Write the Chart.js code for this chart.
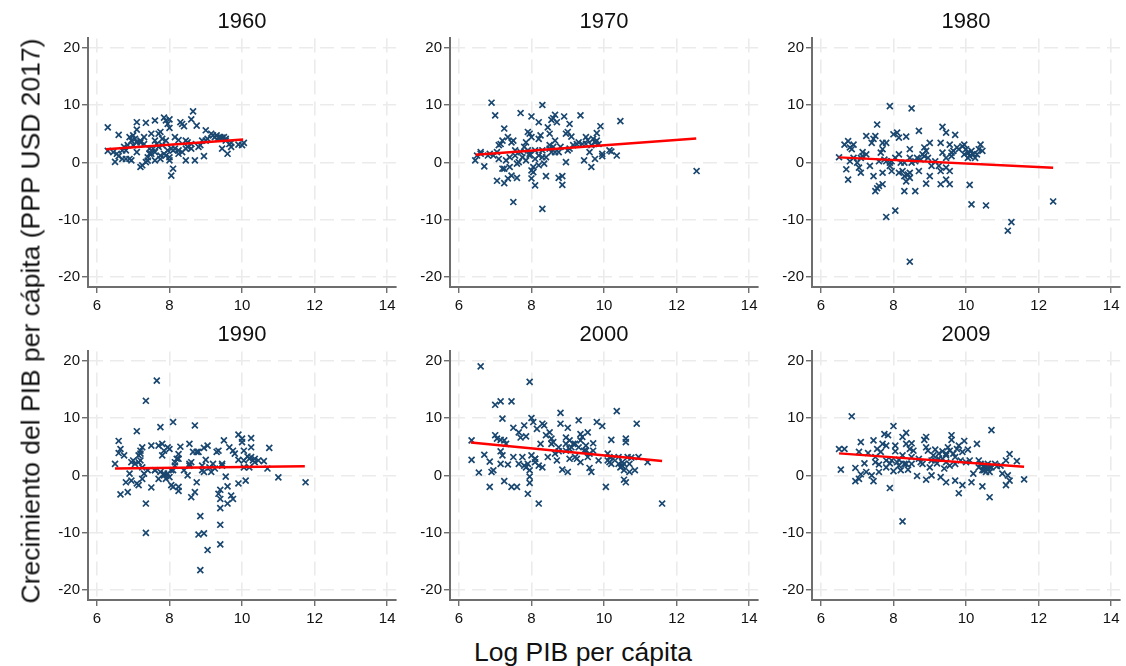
<!DOCTYPE html>
<html><head><meta charset="utf-8">
<script src="https://cdn.jsdelivr.net/npm/chart.js@4.4.1/dist/chart.umd.min.js"></script>
<style>
html,body{margin:0;padding:0;background:#fff;}
#wrap{position:relative;width:1126px;height:666px;overflow:hidden;font-family:"Liberation Sans",Arial,sans-serif;}
.pc{position:absolute;}
#ylab{position:absolute;left:31px;top:321px;transform:translate(-50%,-50%) rotate(-90deg);white-space:nowrap;font-size:26.5px;color:#111;}
#xlab{position:absolute;left:583px;top:652px;transform:translate(-50%,-50%);white-space:nowrap;font-size:26.5px;color:#111;}
</style></head>
<body><div id="wrap">
<canvas id="c0" class="pc"></canvas><canvas id="c1" class="pc"></canvas><canvas id="c2" class="pc"></canvas>
<canvas id="c3" class="pc"></canvas><canvas id="c4" class="pc"></canvas><canvas id="c5" class="pc"></canvas>
<div id="ylab">Crecimiento del PIB per cápita (PPP USD 2017)</div>
<div id="xlab">Log PIB per cápita</div>
</div>
<script>
const years = ['1960','1970','1980','1990','2000','2009'];
const xTicks = [6,8,10,12,14];
const yTicks = [-20,-10,0,10,20];
const xLabel = 'Log PIB per cápita';
const yLabel = 'Crecimiento del PIB per cápita (PPP USD 2017)';

const pts1960 = [[6.3,6.1],[6.3,2.0],[6.6,4.8],[6.5,0.1],[6.6,1.1],[6.8,2.1],[6.85,3.0],[6.9,4.4],[6.95,3.8],[7.0,4.7],[7.05,4.1],[7.1,3.5],[7.1,7.0],[7.1,5.7],[7.2,3.5],[7.3,4.4],[7.35,6.9],[7.4,0.3],[7.45,1.5],[7.5,5.0],[7.55,2.4],[7.6,7.3],[7.6,3.8],[7.65,3.2],[7.7,5.0],[7.75,5.3],[7.8,4.1],[7.85,7.8],[7.9,7.3],[7.95,6.7],[8.0,7.5],[8.0,6.0],[8.0,0.9],[8.0,0.35],[7.95,2.1],[8.05,2.4],[8.1,-1.1],[8.05,-2.3],[8.15,2.4],[8.25,1.5],[8.3,7.0],[8.35,6.7],[8.4,6.3],[8.45,0.35],[8.5,3.5],[8.6,7.5],[8.65,8.9],[8.7,0.35],[8.75,6.4],[8.8,2.7],[8.85,3.0],[8.95,1.1],[9.0,5.6],[9.0,3.8],[9.15,5.0],[9.2,4.7],[9.25,4.4],[9.3,4.7],[9.35,4.3],[9.4,4.4],[9.45,4.3],[9.5,4.4],[9.55,3.8],[9.55,4.1],[9.45,2.4],[9.6,1.5],[9.65,3.2],[9.7,3.4],[9.9,3.1],[10.0,3.0],[10.05,3.4],[6.8,0.6],[6.95,0.35],[7.25,-0.5],[7.2,-0.8],[7.35,0.05],[7.4,0.9],[7.6,0.35],[7.75,0.6],[7.85,1.5],[7.6,1.8],[7.5,1.5],[7.45,2.4],[7.75,1.2],[7.9,1.2],[8.1,2.1],[8.25,2.1],[8.35,1.8],[8.45,2.4],[8.5,2.7],[8.6,2.4],[6.55,1.5],[6.7,2.1],[6.75,2.7],[6.45,1.8],[6.7,0.6],[6.9,0.6],[7.1,1.8],[7.2,3.8],[7.3,3.2],[7.0,3.0],[7.7,2.7],[7.8,3.0],[7.9,3.8],[8.15,4.4],[8.25,3.9],[8.45,3.8],[8.6,3.2],[8.9,3.8],[9.05,4.1],[9.7,2.7]];
const pts1970 = [[6.9,10.4],[7.0,8.2],[6.5,1.2],[6.45,0.35],[6.6,1.8],[6.7,-0.7],[6.85,1.5],[6.95,1.2],[7.05,1.8],[7.1,0.6],[7.1,3.0],[7.15,3.2],[7.2,3.8],[7.25,5.9],[7.05,-3.2],[7.25,-3.6],[7.35,-2.8],[7.45,-2.3],[7.25,-1.1],[7.3,0.35],[7.35,4.4],[7.4,0.9],[7.45,3.5],[7.5,3.8],[7.5,-6.9],[7.55,2.1],[7.6,-2.7],[7.6,-0.2],[7.7,8.6],[7.7,1.8],[7.8,2.7],[7.85,3.5],[7.9,5.3],[7.95,5.0],[8.0,4.4],[7.95,1.5],[8.0,-2.8],[8.0,-1.4],[8.05,-0.8],[8.1,-4.0],[8.0,8.0],[8.1,2.1],[8.2,7.0],[8.2,4.1],[8.25,4.7],[8.3,-8.1],[8.3,0.9],[8.3,10.0],[8.35,-0.2],[8.4,-2.4],[8.45,6.1],[8.5,5.0],[8.5,2.4],[8.55,7.4],[8.6,7.7],[8.65,8.3],[8.7,7.0],[8.55,1.8],[8.65,1.8],[8.75,-2.7],[8.8,2.7],[8.85,-2.4],[8.85,-3.9],[8.9,8.0],[8.95,0.05],[9.0,5.3],[9.05,6.7],[9.05,2.4],[9.1,4.5],[9.25,3.2],[9.35,8.2],[9.4,3.2],[9.45,0.35],[9.5,4.4],[9.55,3.9],[9.6,1.8],[9.65,-0.8],[9.65,3.0],[9.7,4.1],[9.75,0.6],[9.8,5.1],[9.8,3.8],[9.9,6.3],[9.95,1.5],[9.95,1.1],[10.15,2.1],[10.2,1.9],[10.35,1.2],[10.45,7.2],[12.55,-1.5],[7.55,1.2],[7.75,0.9],[7.85,0.35],[7.9,2.1],[8.1,0.6],[8.2,1.2],[8.3,2.1],[8.4,0.9],[8.6,2.7],[8.75,1.8],[9.0,2.1],[9.15,3.0],[9.3,3.5],[9.5,3.2],[9.75,3.5],[9.85,3.2],[6.6,1.5],[6.8,1.2],[7.2,-1.1],[7.4,-0.8],[7.65,0.05],[7.95,1.2],[8.05,-1.7],[8.2,-0.5],[8.5,3.0],[8.65,3.8],[8.95,5.0]];
const pts1980 = [[6.5,0.9],[6.7,-1.2],[6.75,-3.0],[6.65,3.1],[6.75,3.7],[6.8,2.6],[6.9,3.1],[6.85,2.3],[6.8,0.2],[7.0,-0.05],[7.05,-0.9],[7.1,-1.8],[7.15,1.8],[7.15,1.1],[7.25,4.6],[7.35,-0.6],[7.4,3.4],[7.45,4.1],[7.5,4.6],[7.45,-2.4],[7.5,-5.0],[7.55,-4.5],[7.6,-4.1],[7.7,-3.8],[7.55,6.6],[7.65,1.7],[7.7,-1.8],[7.7,2.3],[7.75,0.5],[7.7,3.4],[7.8,3.4],[7.8,-9.5],[7.9,-0.05],[7.9,9.8],[7.95,0.2],[8.0,4.9],[8.05,-8.4],[8.1,5.2],[8.15,4.3],[8.2,-0.05],[8.15,-1.8],[8.3,-5.0],[8.35,4.5],[8.3,-2.4],[8.35,-3.3],[8.4,-2.1],[8.45,2.3],[8.45,-17.3],[8.45,-1.8],[8.5,9.4],[8.6,-5.0],[8.65,0.8],[8.7,5.5],[8.8,1.4],[8.85,2.6],[8.9,2.0],[8.9,-3.7],[9.0,-2.4],[9.0,3.4],[9.05,-0.6],[9.25,-0.6],[9.3,3.4],[9.3,-1.5],[9.3,-3.8],[9.35,6.2],[9.35,1.7],[9.45,-0.9],[9.45,-3.0],[9.45,5.2],[9.55,-3.8],[9.55,-1.5],[9.6,1.1],[9.55,3.1],[9.7,4.8],[9.65,2.0],[9.8,2.3],[9.9,2.8],[9.95,3.1],[10.0,2.3],[10.05,1.7],[10.1,1.1],[10.15,2.0],[10.2,1.4],[10.25,0.8],[10.3,1.4],[10.35,2.3],[10.4,3.1],[10.45,2.0],[10.1,-3.9],[10.15,-7.3],[10.55,-7.5],[11.25,-10.4],[11.15,-11.9],[12.4,-6.8],[7.25,1.4],[7.6,0.2],[7.8,0.2],[8.05,0.8],[8.15,1.4],[8.3,-0.05],[8.45,0.8],[8.5,-0.05],[8.6,0.2],[8.75,0.5],[8.85,1.1],[8.95,0.8],[9.15,0.2],[9.45,0.8],[9.6,1.7],[9.75,2.6],[9.95,1.4],[10.05,0.8],[6.9,0.8],[7.1,0.8],[7.9,-0.6],[8.25,-1.5],[8.45,-2.7],[8.7,-1.5],[7.95,-1.5]];
const pts1990 = [[7.65,16.5],[7.35,13.0],[6.5,2.0],[6.6,6.0],[6.65,4.6],[6.6,3.9],[6.75,3.5],[6.8,-1.2],[6.65,-3.3],[6.85,-2.9],[6.9,0.3],[6.95,-0.9],[7.0,2.6],[7.05,2.0],[7.1,7.7],[7.1,-1.4],[7.15,-1.7],[7.15,3.5],[7.2,4.3],[7.2,2.6],[7.25,4.9],[7.25,-0.6],[7.3,0.3],[7.35,-4.9],[7.35,-10.0],[7.4,0.9],[7.5,-2.1],[7.6,0.9],[7.7,-0.6],[7.75,8.4],[7.7,5.2],[7.8,5.5],[7.8,3.5],[7.85,4.3],[7.85,0.3],[7.9,-0.6],[7.95,4.9],[8.0,4.6],[8.05,0.9],[8.05,-1.7],[8.1,-2.0],[8.1,9.3],[8.15,1.7],[8.2,2.9],[8.25,3.7],[8.25,-2.0],[8.25,-2.7],[8.3,5.0],[8.4,0.9],[8.5,0.0],[8.55,5.5],[8.55,1.7],[8.6,-3.8],[8.65,4.1],[8.7,8.7],[8.7,-2.9],[8.75,-1.2],[8.8,4.1],[8.85,-7.1],[8.8,-10.3],[8.85,-16.5],[8.9,0.9],[8.95,4.8],[8.95,-10.1],[9.0,2.7],[9.05,-13.0],[9.05,5.2],[9.15,0.6],[9.2,2.0],[9.3,4.1],[9.35,-3.2],[9.35,4.3],[9.4,-2.5],[9.4,-4.1],[9.4,-5.7],[9.4,-8.6],[9.4,-12.0],[9.45,1.7],[9.5,6.1],[9.55,-0.2],[9.6,-1.9],[9.6,-4.9],[9.65,4.9],[9.7,-3.5],[9.75,-4.1],[9.75,4.3],[9.8,3.8],[9.9,-1.4],[9.9,7.1],[10.0,6.4],[10.0,5.8],[10.05,4.3],[10.05,2.6],[10.1,-0.9],[10.15,3.3],[10.2,2.9],[10.25,6.5],[10.25,4.9],[10.3,2.6],[10.35,2.3],[10.45,2.6],[10.6,2.5],[10.7,1.2],[10.75,4.8],[11.0,-0.35],[11.75,-1.2],[7.6,0.9],[7.75,0.6],[7.85,0.0],[7.95,0.3],[8.0,-0.3],[8.1,0.9],[8.15,2.3],[8.25,2.9],[8.55,2.0],[8.6,2.3],[8.75,4.1],[8.9,1.7],[8.95,0.6],[9.1,1.4],[9.25,1.2],[9.45,2.0],[9.9,2.7],[10.05,1.4],[10.2,1.4],[10.25,3.2],[10.35,2.9],[6.95,2.3],[7.15,2.3],[7.2,3.8],[7.25,1.4],[7.5,5.2]];
const pts2000 = [[6.6,19.0],[7.95,16.3],[6.35,6.1],[6.35,2.7],[6.55,0.5],[6.7,3.6],[6.85,2.4],[6.85,-2.0],[6.9,0.6],[6.95,0.9],[7.0,12.3],[7.15,12.9],[7.0,7.0],[7.05,6.4],[7.15,4.2],[7.15,6.2],[7.2,9.9],[7.2,3.5],[7.25,6.1],[7.25,-1.0],[7.3,5.5],[7.35,1.9],[7.45,12.9],[7.45,-2.0],[7.5,8.3],[7.5,3.2],[7.6,-2.0],[7.65,7.5],[7.7,6.6],[7.75,3.2],[7.8,8.7],[7.8,1.7],[7.85,6.8],[7.9,-3.2],[7.95,-1.3],[7.95,-0.2],[8.0,3.5],[8.0,10.0],[8.05,9.3],[8.1,2.9],[8.1,2.3],[8.15,8.1],[8.2,-4.9],[8.2,1.7],[8.25,5.5],[8.3,9.0],[8.3,1.4],[8.35,8.7],[8.4,7.0],[8.45,3.2],[8.5,7.5],[8.55,6.4],[8.55,5.5],[8.6,5.8],[8.7,2.6],[8.75,4.2],[8.8,10.9],[8.8,9.0],[8.85,1.0],[8.95,6.6],[8.95,5.5],[9.0,8.3],[9.0,0.6],[9.05,2.9],[9.05,6.1],[9.1,4.9],[9.15,5.5],[9.2,3.2],[9.25,2.9],[9.3,9.6],[9.35,7.2],[9.35,6.1],[9.35,2.3],[9.4,6.7],[9.45,4.3],[9.5,5.2],[9.55,7.5],[9.55,3.2],[9.6,1.3],[9.65,0.6],[9.7,5.6],[9.7,4.3],[9.8,9.3],[9.85,2.6],[9.95,8.6],[10.05,-2.0],[10.1,3.8],[10.15,2.3],[10.2,6.2],[10.2,2.0],[10.35,11.2],[10.25,2.9],[10.4,2.0],[10.5,1.7],[10.5,1.6],[10.55,0.9],[10.55,2.0],[10.55,-0.75],[10.6,-1.2],[10.6,6.4],[10.6,5.8],[10.65,3.2],[10.7,0.6],[10.7,2.0],[10.75,3.1],[10.85,0.9],[10.9,9.0],[10.95,3.2],[11.2,2.3],[11.6,-4.9],[8.65,3.8],[8.75,4.9],[8.95,4.3],[9.05,4.6],[9.2,5.5],[9.3,4.9],[9.5,4.3],[9.6,3.8],[10.1,2.6],[10.15,3.2],[10.4,3.2],[10.45,1.4],[10.5,2.3],[7.9,2.0],[8.1,2.9],[7.85,1.4],[7.65,2.0],[7.15,2.0],[7.95,0.9]];
const pts2009 = [[6.85,10.3],[6.5,4.6],[6.65,4.6],[6.55,1.0],[6.95,1.3],[6.95,-1.0],[7.05,-0.6],[7.1,0.2],[7.05,4.1],[7.1,5.8],[7.2,2.1],[7.25,0.6],[7.3,3.9],[7.4,0.0],[7.45,6.1],[7.45,-1.0],[7.5,2.3],[7.5,3.2],[7.55,4.6],[7.6,1.9],[7.65,4.1],[7.7,5.5],[7.75,7.2],[7.8,1.4],[7.8,5.2],[7.85,7.0],[7.9,2.1],[7.9,-2.2],[7.95,2.6],[8.0,0.75],[8.0,8.6],[8.05,5.2],[8.05,4.2],[8.1,2.3],[8.15,2.7],[8.2,0.9],[8.25,3.5],[8.25,-8.0],[8.25,6.7],[8.3,2.0],[8.35,7.4],[8.35,5.5],[8.4,1.0],[8.45,4.6],[8.5,3.2],[8.5,5.6],[8.55,4.3],[8.65,-0.1],[8.75,2.3],[8.8,2.0],[8.85,6.2],[8.9,4.9],[8.9,-0.75],[8.9,6.7],[8.95,4.3],[9.0,1.4],[9.05,0.0],[9.1,3.5],[9.15,4.5],[9.15,2.6],[9.2,2.1],[9.25,2.9],[9.3,-0.3],[9.35,4.2],[9.4,1.2],[9.45,2.3],[9.45,-1.2],[9.45,3.5],[9.5,4.9],[9.55,1.7],[9.6,7.0],[9.6,6.2],[9.65,3.8],[9.7,-0.9],[9.7,3.2],[9.75,4.6],[9.8,-3.1],[9.8,5.2],[9.85,2.6],[9.9,4.1],[9.9,-1.7],[9.95,6.0],[10.0,2.3],[10.05,4.5],[10.1,2.6],[10.15,-1.2],[10.2,0.3],[10.3,5.5],[10.35,2.6],[10.4,2.0],[10.45,-1.9],[10.5,1.4],[10.5,0.9],[10.55,1.7],[10.6,1.2],[10.65,0.6],[10.65,-3.8],[10.7,1.4],[10.7,7.9],[10.8,2.0],[10.85,1.6],[10.95,1.7],[11.0,0.3],[11.1,2.6],[11.1,-1.7],[11.15,0.0],[11.2,-0.9],[11.2,3.7],[11.4,2.5],[11.6,-0.7],[10.35,1.4],[10.45,0.9],[10.5,1.7],[10.55,0.6],[10.6,2.0],[10.65,1.4],[9.25,3.8],[9.35,2.9],[9.45,3.8],[9.55,4.3],[9.7,2.0],[9.05,2.6],[8.7,2.9],[8.5,2.0],[7.8,2.6],[7.6,0.6],[8.15,1.7],[8.35,2.0]];

const fit1960 = [[6.25,2.3],[10.03,4.0]];
const fit1970 = [[6.46,1.33],[12.54,4.17]];
const fit1980 = [[6.5,0.87],[12.4,-0.93]];
const fit1990 = [[6.5,1.2],[11.73,1.6]];
const fit2000 = [[6.33,5.74],[11.6,2.5]];
const fit2009 = [[6.5,3.83],[11.6,1.5]];

const allPts = [pts1960,pts1970,pts1980,pts1990,pts2000,pts2009];
const allFits = [fit1960,fit1970,fit1980,fit1990,fit2000,fit2009];

const FONT = '"Liberation Sans", Arial, sans-serif';
const YW = 48, XH = 32;
const colLeft = [40, 402, 764];
const rowTop = [0, 313];
const CW = 362, CH = 319;

years.forEach((yr, i) => {
  const cv = document.getElementById('c' + i);
  const col = i % 3, row = Math.floor(i / 3);
  cv.style.left = colLeft[col] + 'px';
  cv.style.top = rowTop[row] + 'px';
  cv.style.width = CW + 'px';
  cv.style.height = CH + 'px';
  cv.width = CW; cv.height = CH;
  const gridOpts = { color: '#ebebeb', lineWidth: 1.6, tickLength: 6, tickColor: '#333', tickWidth: 1, tickBorderDash: [] };
  const borderOpts = { display: true, color: '#6e6e6e', width: 2, dash: [14, 7] };
  new Chart(cv, {
    type: 'scatter',
    data: {
      datasets: [
        {
          data: allPts[i].map(p => ({x: p[0], y: p[1]})),
          pointStyle: 'crossRot',
          pointRadius: 4.2,
          pointBorderWidth: 1.7,
          borderColor: '#1a476f',
          backgroundColor: '#1a476f',
          order: 2
        },
        {
          type: 'line',
          data: allFits[i].map(p => ({x: p[0], y: p[1]})),
          borderColor: '#ff0000',
          borderWidth: 2.4,
          pointRadius: 0,
          fill: false,
          tension: 0,
          order: 1
        }
      ]
    },
    options: {
      responsive: false,
      animation: false,
      devicePixelRatio: 1,
      layout: { padding: { left: 0, right: 2, top: 0, bottom: 0 } },
      plugins: {
        legend: { display: false },
        tooltip: { enabled: false },
        title: {
          display: true, text: yr, color: '#111', fullSize: false,
          font: { family: FONT, size: 22, weight: 'normal' },
          padding: { top: 9, bottom: 3 }
        }
      },
      scales: {
        x: {
          type: 'linear', min: 5.755, max: 14.245,
          afterBuildTicks: s => { s.ticks = xTicks.map(v => ({value: v})); },
          afterFit: s => { s.height = XH; },
          ticks: { color: '#111', font: { family: FONT, size: 15 }, padding: 4, maxRotation: 0, autoSkip: false },
          grid: gridOpts,
          border: borderOpts
        },
        y: {
          type: 'linear', min: -21.7, max: 21.6,
          afterBuildTicks: s => { s.ticks = yTicks.map(v => ({value: v})); },
          afterFit: s => { s.width = YW; },
          ticks: { color: '#111', font: { family: FONT, size: 15 }, padding: 2, autoSkip: false },
          grid: gridOpts,
          border: borderOpts
        }
      }
    }
  });
});
</script>
</body></html>
